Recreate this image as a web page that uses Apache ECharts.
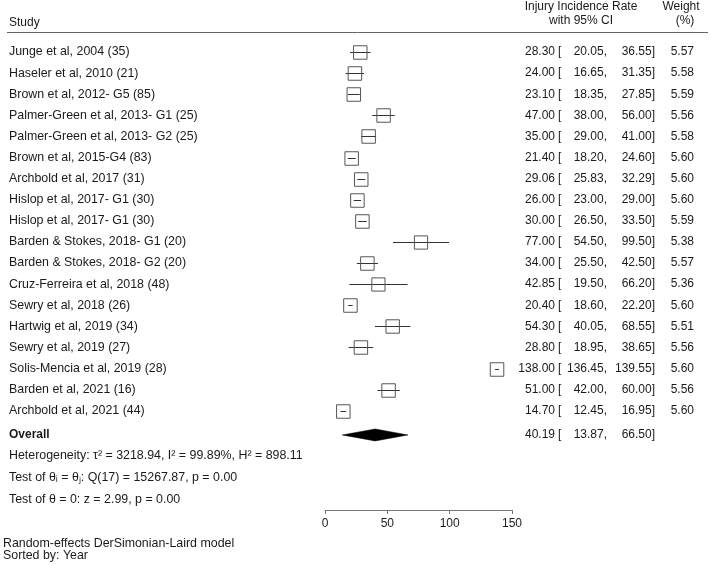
<!DOCTYPE html>
<html>
<head>
<meta charset="utf-8">
<script src="https://cdn.jsdelivr.net/npm/echarts@6/dist/echarts.min.js"></script>
<style>
html,body{margin:0;padding:0;background:#fff;}
#chart{width:710px;height:565px;}
</style>
</head>
<body>
<div id="chart"></div>
<script>
var studies = [
  "Junge et al, 2004 (35)",
  "Haseler et al, 2010 (21)",
  "Brown et al, 2012- G5 (85)",
  "Palmer-Green et al, 2013- G1 (25)",
  "Palmer-Green et al, 2013- G2 (25)",
  "Brown et al, 2015-G4 (83)",
  "Archbold et al, 2017 (31)",
  "Hislop et al, 2017- G1 (30)",
  "Hislop et al, 2017- G1 (30)",
  "Barden & Stokes, 2018- G1 (20)",
  "Barden & Stokes, 2018- G2 (20)",
  "Cruz-Ferreira et al, 2018 (48)",
  "Sewry et al, 2018 (26)",
  "Hartwig et al, 2019 (34)",
  "Sewry et al, 2019 (27)",
  "Solis-Mencia et al, 2019 (28)",
  "Barden et al, 2021 (16)",
  "Archbold et al, 2021 (44)"
];
var estimates = [28.30, 24.00, 23.10, 47.00, 35.00, 21.40, 29.06, 26.00, 30.00, 77.00, 34.00, 42.85, 20.40, 54.30, 28.80, 138.00, 51.00, 14.70];
var lowerCI   = [20.05, 16.65, 18.35, 38.00, 29.00, 18.20, 25.83, 23.00, 26.50, 54.50, 25.50, 19.50, 18.60, 40.05, 18.95, 136.45, 42.00, 12.45];
var upperCI   = [36.55, 31.35, 27.85, 56.00, 41.00, 24.60, 32.29, 29.00, 33.50, 99.50, 42.50, 66.20, 22.20, 68.55, 38.65, 139.55, 60.00, 16.95];
var weights   = [5.57, 5.58, 5.59, 5.56, 5.58, 5.60, 5.60, 5.60, 5.59, 5.38, 5.57, 5.36, 5.60, 5.51, 5.56, 5.60, 5.56, 5.60];
var overallLabel = "Overall";
var overallEst = 40.19;
var overallLower = 13.87;
var overallUpper = 66.50;
var xTicks = [0, 50, 100, 150];
var notes = [
  "Heterogeneity: \u03c4\u00b2 = 3218.94, I\u00b2 = 99.89%, H\u00b2 = 898.11",
  "Test of \u03b8\u1d62 = \u03b8\u2c7c: Q(17) = 15267.87, p = 0.00",
  "Test of \u03b8 = 0: z = 2.99, p = 0.00"
];
var footer = ["Random-effects DerSimonian-Laird model", "Sorted by: Year"];

var FONT = '12px "Liberation Sans", Arial, Helvetica, sans-serif';
var LFONT = '12.4px "Liberation Sans", Arial, Helvetica, sans-serif';
var BOLD = 'bold 12px "Liberation Sans", Arial, Helvetica, sans-serif';
var TXT = '#1a1a1a';
var OVERALL_ROW = 18.15;

var chart = echarts.init(document.getElementById('chart'), null, {renderer: 'canvas'});

var studyData = studies.map(function (s, i) {
  return [estimates[i], lowerCI[i], upperCI[i], weights[i], i];
});

function fmt(v) { return v.toFixed(2); }

var option = {
  animation: false,
  backgroundColor: '#fff',
  grid: {left: 325, top: 52, width: 187, height: 458, containLabel: false},
  xAxis: {
    type: 'value', min: xTicks[0], max: xTicks[xTicks.length - 1], interval: 50,
    position: 'bottom',
    axisLine: {show: true, onZero: false, lineStyle: {color: '#777', width: 1}},
    axisTick: {show: true, length: 4, lineStyle: {color: '#777'}},
    axisLabel: {fontSize: 12, color: TXT, margin: 8, fontFamily: '"Liberation Sans", Arial, sans-serif'},
    splitLine: {show: false}
  },
  yAxis: {
    type: 'value', min: 0, max: 21.706, inverse: true, show: false
  },
  graphic: [
    {type: 'text', x: 9, y: 23, style: {text: 'Study', font: FONT, fill: TXT, verticalAlign: 'middle'}},
    {type: 'text', x: 581, y: 7, style: {text: 'Injury Incidence Rate', font: FONT, fill: TXT, align: 'center', verticalAlign: 'middle'}},
    {type: 'text', x: 581, y: 21, style: {text: 'with 95% CI', font: FONT, fill: TXT, align: 'center', verticalAlign: 'middle'}},
    {type: 'text', x: 681, y: 7, style: {text: 'Weight', font: FONT, fill: TXT, align: 'center', verticalAlign: 'middle'}},
    {type: 'text', x: 685, y: 21, style: {text: '(%)', font: FONT, fill: TXT, align: 'center', verticalAlign: 'middle'}},
    {type: 'line', shape: {x1: 7, y1: 32.5, x2: 708, y2: 32.5}, style: {stroke: '#666', lineWidth: 1}},
    {type: 'text', x: 9, y: 456, style: {text: notes[0], font: LFONT, fill: TXT, verticalAlign: 'middle'}},
    {type: 'text', x: 9, y: 478, style: {text: notes[1], font: LFONT, fill: TXT, verticalAlign: 'middle'}},
    {type: 'text', x: 9, y: 500, style: {text: notes[2], font: LFONT, fill: TXT, verticalAlign: 'middle'}},
    {type: 'text', x: 3, y: 544, style: {text: footer[0], font: LFONT, fill: TXT, verticalAlign: 'middle'}},
    {type: 'text', x: 3, y: 556, style: {text: footer[1], font: LFONT, fill: TXT, verticalAlign: 'middle'}}
  ],
  series: [
    {
      type: 'custom',
      clip: false,
      data: studyData,
      encode: {x: [0, 1, 2], y: 4},
      renderItem: function (params, api) {
        var est = api.value(0), lo = api.value(1), hi = api.value(2), w = api.value(3), row = api.value(4);
        var p = api.coord([est, row]);
        var pl = api.coord([lo, row]);
        var ph = api.coord([hi, row]);
        var s = 13.5 * Math.sqrt(w / 5.6);
        var y = Math.round(p[1]) + 0.5;
        return {
          type: 'group',
          children: [
            {type: 'line', shape: {x1: pl[0], y1: y, x2: ph[0], y2: y}, style: {stroke: '#333', lineWidth: 1}},
            {type: 'rect', shape: {x: p[0] - s / 2, y: y - s / 2, width: s, height: s}, style: {fill: 'none', stroke: '#555', lineWidth: 1}}
          ]
        };
      }
    },
    {
      type: 'custom',
      clip: false,
      data: studyData,
      encode: {y: 4},
      renderItem: function (params, api) {
        var i = params.dataIndex;
        var row = api.value(4);
        var y = api.coord([0, row])[1];
        return {
          type: 'group',
          children: [
            {type: 'text', style: {x: 9, y: y, text: studies[i], font: LFONT, fill: TXT, verticalAlign: 'middle', align: 'left'}},
            {type: 'text', style: {x: 555, y: y, text: fmt(estimates[i]), font: FONT, fill: TXT, verticalAlign: 'middle', align: 'right'}},
            {type: 'text', style: {x: 558, y: y, text: '[', font: FONT, fill: TXT, verticalAlign: 'middle', align: 'left'}},
            {type: 'text', style: {x: 607, y: y, text: fmt(lowerCI[i]) + ',', font: FONT, fill: TXT, verticalAlign: 'middle', align: 'right'}},
            {type: 'text', style: {x: 655, y: y, text: fmt(upperCI[i]) + ']', font: FONT, fill: TXT, verticalAlign: 'middle', align: 'right'}},
            {type: 'text', style: {x: 694, y: y, text: fmt(weights[i]), font: FONT, fill: TXT, verticalAlign: 'middle', align: 'right'}}
          ]
        };
      }
    },
    {
      type: 'custom',
      clip: false,
      data: [[overallEst, overallLower, overallUpper, OVERALL_ROW]],
      encode: {x: [0, 1, 2], y: 3},
      renderItem: function (params, api) {
        var row = api.value(3);
        var c = api.coord([api.value(0), row]);
        var l = api.coord([api.value(1), row]);
        var h = api.coord([api.value(2), row]);
        var y = c[1];
        return {
          type: 'group',
          children: [
            {type: 'polygon', shape: {points: [[l[0], y], [c[0], y - 6], [h[0], y], [c[0], y + 6]]}, style: {fill: '#000', stroke: '#000', lineWidth: 0.5}},
            {type: 'text', style: {x: 9, y: y, text: overallLabel, font: BOLD, fill: TXT, verticalAlign: 'middle', align: 'left'}},
            {type: 'text', style: {x: 555, y: y, text: fmt(api.value(0)), font: FONT, fill: TXT, verticalAlign: 'middle', align: 'right'}},
            {type: 'text', style: {x: 558, y: y, text: '[', font: FONT, fill: TXT, verticalAlign: 'middle', align: 'left'}},
            {type: 'text', style: {x: 607, y: y, text: fmt(api.value(1)) + ',', font: FONT, fill: TXT, verticalAlign: 'middle', align: 'right'}},
            {type: 'text', style: {x: 655, y: y, text: fmt(api.value(2)) + ']', font: FONT, fill: TXT, verticalAlign: 'middle', align: 'right'}}
          ]
        };
      }
    }
  ]
};
chart.setOption(option);
</script>
</body>
</html>
